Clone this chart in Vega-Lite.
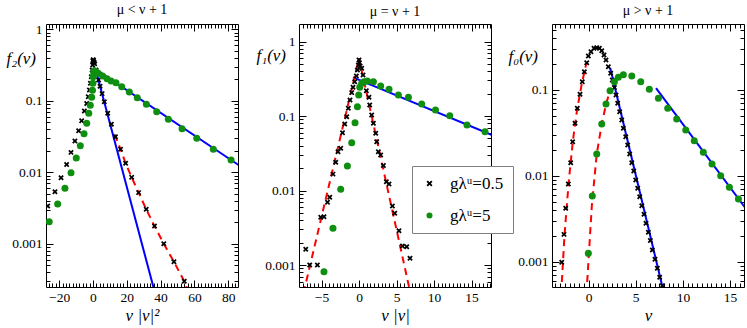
{
  "$schema": "https://vega.github.io/schema/vega-lite/v6.json",
  "padding": {"left": 5, "top": 2, "right": 3, "bottom": 3},
  "bounds": "flush",
  "spacing": 61,
  "resolve": {"scale": {"color": "independent", "shape": "independent"}, "legend": {"color": "independent", "shape": "independent"}},
  "config": {
    "view": {"stroke": "black", "strokeWidth": 1},
    "font": "'Liberation Serif', 'Times New Roman', 'DejaVu Serif', serif",
    "axis": {"domain": false, "grid": false, "tickColor": "black", "tickWidth": 1, "labelFont": "'Liberation Serif', 'Times New Roman', 'DejaVu Serif', serif", "labelFontSize": 13.5, "labelColor": "black", "labelOverlap": false, "labelFlush": false, "titleFont": "'Liberation Serif', 'Times New Roman', 'DejaVu Serif', serif", "titleFontSize": 17, "titleFontStyle": "italic", "titleFontWeight": "normal", "titleColor": "black"},
    "legend": {"labelFont": "'Liberation Serif', 'Times New Roman', 'DejaVu Serif', serif"},
    "title": {"font": "'Liberation Serif', 'Times New Roman', 'DejaVu Serif', serif", "fontSize": 14, "fontWeight": "normal", "color": "black", "offset": 5, "baseline": "alphabetic"}
  },
  "hconcat": [
    {
      "width": 192, "height": 263,
      "title": {"text": "μ < ν + 1"},
      "data": {"values": [
        {"k": "gλᵘ=0.5", "x": -26.8, "y": 0.00338}, {"k": "gλᵘ=0.5", "x": -22.5, "y": 0.00535}, {"k": "gλᵘ=0.5", "x": -18.9, "y": 0.0084}, {"k": "gλᵘ=0.5", "x": -15.6, "y": 0.0129}, {"k": "gλᵘ=0.5", "x": -13.0, "y": 0.019}, {"k": "gλᵘ=0.5", "x": -10.7, "y": 0.0274}, {"k": "gλᵘ=0.5", "x": -8.5, "y": 0.0382}, {"k": "gλᵘ=0.5", "x": -6.7, "y": 0.0527}, {"k": "gλᵘ=0.5", "x": -5.1, "y": 0.072}, {"k": "gλᵘ=0.5", "x": -3.7, "y": 0.092}, {"k": "gλᵘ=0.5", "x": -2.8, "y": 0.114}, {"k": "gλᵘ=0.5", "x": -2.1, "y": 0.142}, {"k": "gλᵘ=0.5", "x": -1.5, "y": 0.176}, {"k": "gλᵘ=0.5", "x": -1.0, "y": 0.217}, {"k": "gλᵘ=0.5", "x": -0.5, "y": 0.27}, {"k": "gλᵘ=0.5", "x": -0.2, "y": 0.317}, {"k": "gλᵘ=0.5", "x": 0, "y": 0.36}, {"k": "gλᵘ=0.5", "x": 0.1, "y": 0.375},
        {"k": "gλᵘ=0.5", "x": 0.3, "y": 0.37}, {"k": "gλᵘ=0.5", "x": 0.6, "y": 0.35}, {"k": "gλᵘ=0.5", "x": 1.0, "y": 0.33}, {"k": "gλᵘ=0.5", "x": 1.8, "y": 0.27}, {"k": "gλᵘ=0.5", "x": 3.3, "y": 0.195}, {"k": "gλᵘ=0.5", "x": 4.2, "y": 0.16}, {"k": "gλᵘ=0.5", "x": 5.4, "y": 0.126}, {"k": "gλᵘ=0.5", "x": 6.7, "y": 0.097}, {"k": "gλᵘ=0.5", "x": 8.7, "y": 0.067}, {"k": "gλᵘ=0.5", "x": 10.9, "y": 0.047}, {"k": "gλᵘ=0.5", "x": 13.3, "y": 0.0315}, {"k": "gλᵘ=0.5", "x": 16.3, "y": 0.021}, {"k": "gλᵘ=0.5", "x": 19.3, "y": 0.0134}, {"k": "gλᵘ=0.5", "x": 22.9, "y": 0.0085}, {"k": "gλᵘ=0.5", "x": 27.0, "y": 0.0052}, {"k": "gλᵘ=0.5", "x": 31.5, "y": 0.00304}, {"k": "gλᵘ=0.5", "x": 36.4, "y": 0.00177}, {"k": "gλᵘ=0.5", "x": 41.9, "y": 0.001}, {"k": "gλᵘ=0.5", "x": 47.9, "y": 0.00056}, {"k": "gλᵘ=0.5", "x": 54.0, "y": 0.0003},
        {"k": "gλᵘ=5", "x": -25.9, "y": 0.00204}, {"k": "gλᵘ=5", "x": -20.9, "y": 0.0036}, {"k": "gλᵘ=5", "x": -16.6, "y": 0.006}, {"k": "gλᵘ=5", "x": -13.0, "y": 0.0099}, {"k": "gλᵘ=5", "x": -9.9, "y": 0.0158}, {"k": "gλᵘ=5", "x": -7.5, "y": 0.0235}, {"k": "gλᵘ=5", "x": -5.3, "y": 0.0347}, {"k": "gλᵘ=5", "x": -3.7, "y": 0.0484}, {"k": "gλᵘ=5", "x": -2.5, "y": 0.067}, {"k": "gλᵘ=5", "x": -1.6, "y": 0.0865}, {"k": "gλᵘ=5", "x": -0.8, "y": 0.112}, {"k": "gλᵘ=5", "x": -0.3, "y": 0.14}, {"k": "gλᵘ=5", "x": -0.05, "y": 0.176}, {"k": "gλᵘ=5", "x": 0.1, "y": 0.217}, {"k": "gλᵘ=5", "x": 0.4, "y": 0.25}, {"k": "gλᵘ=5", "x": 0.8, "y": 0.264}, {"k": "gλᵘ=5", "x": 1.8, "y": 0.255}, {"k": "gλᵘ=5", "x": 3.1, "y": 0.243}, {"k": "gλᵘ=5", "x": 5.7, "y": 0.222}, {"k": "gλᵘ=5", "x": 8.3, "y": 0.204}, {"k": "gλᵘ=5", "x": 10.7, "y": 0.189}, {"k": "gλᵘ=5", "x": 13.6, "y": 0.179}, {"k": "gλᵘ=5", "x": 17.0, "y": 0.157}, {"k": "gλᵘ=5", "x": 21.5, "y": 0.133}, {"k": "gλᵘ=5", "x": 26.2, "y": 0.11}, {"k": "gλᵘ=5", "x": 31.6, "y": 0.0893}, {"k": "gλᵘ=5", "x": 37.7, "y": 0.0705}, {"k": "gλᵘ=5", "x": 44.6, "y": 0.0551}, {"k": "gλᵘ=5", "x": 52.7, "y": 0.0407}, {"k": "gλᵘ=5", "x": 61.4, "y": 0.0299}, {"k": "gλᵘ=5", "x": 71.2, "y": 0.021}, {"k": "gλᵘ=5", "x": 81.7, "y": 0.0149},
        {"k": "b1", "x": 2.0, "y": 0.25}, {"k": "b1", "x": 36.8, "y": 0.0002},
        {"k": "b2", "x": 2.5, "y": 0.266}, {"k": "b2", "x": 90, "y": 0.011},
        {"k": "r1", "x": 12.8, "y": 0.034}, {"k": "r1", "x": 16.3, "y": 0.021}, {"k": "r1", "x": 19.3, "y": 0.0134}, {"k": "r1", "x": 22.9, "y": 0.0085}, {"k": "r1", "x": 27.0, "y": 0.0052}, {"k": "r1", "x": 31.5, "y": 0.00304}, {"k": "r1", "x": 36.4, "y": 0.00177}, {"k": "r1", "x": 41.9, "y": 0.001}, {"k": "r1", "x": 47.9, "y": 0.00056}, {"k": "r1", "x": 54.0, "y": 0.0003}, {"k": "r1", "x": 57.0, "y": 0.0002}
      ]},
      "resolve": {"axis": {"x": "independent", "y": "independent"}},
      "layer": [
        {
          "transform": [{"filter": "datum.k == 'b1' || datum.k == 'b2'"}],
          "mark": {"type": "line", "color": "#0000ff", "strokeWidth": 2, "clip": true},
          "encoding": {
            "x": {"field": "x", "type": "quantitative", "scale": {"domain": [-27.8, 85.8], "nice": false, "zero": false},
              "axis": {"orient": "bottom", "values": [-26,-24,-22,-20,-18,-16,-14,-12,-10,-8,-6,-4,-2,0,2,4,6,8,10,12,14,16,18,20,22,24,26,28,30,32,34,36,38,40,42,44,46,48,50,52,54,56,58,60,62,64,66,68,70,72,74,76,78,80,82,84],
                "labelExpr": "datum.value % 20 == 0 ? format(datum.value, 'd') : ''",
                "tickSize": {"condition": {"test": "datum.value % 20 == 0", "value": -7}, "value": -4},
                "labelPadding": 10, "title": "v |v|²", "titleY": 33, "titleBaseline": "alphabetic"}},
            "y": {"field": "y", "type": "quantitative", "scale": {"type": "log", "domain": [0.000249, 1.186], "nice": false},
              "axis": {"orient": "left", "values": [0.0003,0.0004,0.0005,0.0006,0.0007,0.0008,0.0009,0.001,0.002,0.003,0.004,0.005,0.006,0.007,0.008,0.009,0.01,0.02,0.03,0.04,0.05,0.06,0.07,0.08,0.09,0.1,0.2,0.3,0.4,0.5,0.6,0.7,0.8,0.9,1],
                "labelExpr": "datum.value == 1 ? '1' : datum.value == 0.1 ? '0.1' : datum.value == 0.01 ? '0.01' : datum.value == 0.001 ? '0.001' : ''",
                "tickSize": {"condition": {"test": "datum.value == 1 || datum.value == 0.1 || datum.value == 0.01 || datum.value == 0.001", "value": -7}, "value": -4},
                "labelPadding": 11, "title": "f₂(v)", "titleAngle": 0, "titleAlign": "left", "titleBaseline": "alphabetic", "titleX": -40, "titleY": 39}},
            "detail": {"field": "k"}
          }
        },
        {
          "transform": [{"filter": "datum.k == 'r1'"}],
          "mark": {"type": "line", "color": "#ff0000", "strokeWidth": 2, "strokeDash": [7, 5], "clip": true},
          "encoding": {
            "x": {"field": "x", "type": "quantitative", "scale": {"domain": [-27.8, 85.8], "nice": false, "zero": false},
              "axis": {"orient": "top", "labels": false, "title": null, "values": [-26,-24,-22,-20,-18,-16,-14,-12,-10,-8,-6,-4,-2,0,2,4,6,8,10,12,14,16,18,20,22,24,26,28,30,32,34,36,38,40,42,44,46,48,50,52,54,56,58,60,62,64,66,68,70,72,74,76,78,80,82,84],
                "tickSize": {"condition": {"test": "datum.value % 20 == 0", "value": -7}, "value": -4}}},
            "y": {"field": "y", "type": "quantitative", "scale": {"type": "log", "domain": [0.000249, 1.186], "nice": false},
              "axis": {"orient": "right", "labels": false, "title": null, "values": [0.0003,0.0004,0.0005,0.0006,0.0007,0.0008,0.0009,0.001,0.002,0.003,0.004,0.005,0.006,0.007,0.008,0.009,0.01,0.02,0.03,0.04,0.05,0.06,0.07,0.08,0.09,0.1,0.2,0.3,0.4,0.5,0.6,0.7,0.8,0.9,1],
                "tickSize": {"condition": {"test": "datum.value == 1 || datum.value == 0.1 || datum.value == 0.01 || datum.value == 0.001", "value": -7}, "value": -4}}},
            "detail": {"field": "k"}
          }
        },
        {
          "transform": [{"filter": "datum.k == 'gλᵘ=0.5' || datum.k == 'gλᵘ=5'"}],
          "mark": {"type": "point", "filled": true, "opacity": 1, "strokeWidth": 0, "clip": true},
          "encoding": {
            "x": {"field": "x", "type": "quantitative", "scale": {"domain": [-27.8, 85.8], "nice": false, "zero": false}, "axis": null},
            "y": {"field": "y", "type": "quantitative", "scale": {"type": "log", "domain": [0.000249, 1.186], "nice": false}, "axis": null},
            "color": {"field": "k", "type": "nominal", "scale": {"domain": ["gλᵘ=0.5", "gλᵘ=5"], "range": ["#000000", "#0f8f0f"]}, "legend": null},
            "shape": {"field": "k", "type": "nominal", "scale": {"domain": ["gλᵘ=0.5", "gλᵘ=5"], "range": ["M-1,-0.55L-0.55,-1L0,-0.45L0.55,-1L1,-0.55L0.45,0L1,0.55L0.55,1L0,0.45L-0.55,1L-1,0.55L-0.45,0Z", "circle"]}, "legend": null},
            "size": {"condition": {"test": "datum.k == 'gλᵘ=5'", "value": 49}, "value": 30}
          }
        }
      ]
    },
    {
      "width": 192, "height": 263,
      "title": {"text": "μ = ν + 1"},
      "data": {"values": [
        {"k": "gλᵘ=0.5", "x": -7.1, "y": 0.00163}, {"k": "gλᵘ=0.5", "x": -6.57, "y": 0.001}, {"k": "gλᵘ=0.5", "x": -5.55, "y": 0.001}, {"k": "gλᵘ=0.5", "x": -5.1, "y": 0.00437}, {"k": "gλᵘ=0.5", "x": -4.67, "y": 0.00445}, {"k": "gλᵘ=0.5", "x": -4.2, "y": 0.00694}, {"k": "gλᵘ=0.5", "x": -3.9, "y": 0.0081}, {"k": "gλᵘ=0.5", "x": -3.47, "y": 0.0166}, {"k": "gλᵘ=0.5", "x": -3.1, "y": 0.0239}, {"k": "gλᵘ=0.5", "x": -2.8, "y": 0.0332}, {"k": "gλᵘ=0.5", "x": -2.44, "y": 0.0368}, {"k": "gλᵘ=0.5", "x": -2.2, "y": 0.0597}, {"k": "gλᵘ=0.5", "x": -1.9, "y": 0.078}, {"k": "gλᵘ=0.5", "x": -1.64, "y": 0.098}, {"k": "gλᵘ=0.5", "x": -1.42, "y": 0.127}, {"k": "gλᵘ=0.5", "x": -1.2, "y": 0.164}, {"k": "gλᵘ=0.5", "x": -0.97, "y": 0.206}, {"k": "gλᵘ=0.5", "x": -0.8, "y": 0.243}, {"k": "gλᵘ=0.5", "x": -0.57, "y": 0.289}, {"k": "gλᵘ=0.5", "x": -0.35, "y": 0.344}, {"k": "gλᵘ=0.5", "x": -0.21, "y": 0.414}, {"k": "gλᵘ=0.5", "x": -0.08, "y": 0.484}, {"k": "gλᵘ=0.5", "x": 0, "y": 0.565}, {"k": "gλᵘ=0.5", "x": 0.05, "y": 0.52}, {"k": "gλᵘ=0.5", "x": 0.15, "y": 0.47}, {"k": "gλᵘ=0.5", "x": 0.36, "y": 0.437}, {"k": "gλᵘ=0.5", "x": 0.54, "y": 0.355}, {"k": "gλᵘ=0.5", "x": 0.8, "y": 0.289}, {"k": "gλᵘ=0.5", "x": 0.98, "y": 0.219}, {"k": "gλᵘ=0.5", "x": 1.33, "y": 0.178}, {"k": "gλᵘ=0.5", "x": 1.43, "y": 0.141}, {"k": "gλᵘ=0.5", "x": 1.69, "y": 0.103}, {"k": "gλᵘ=0.5", "x": 1.92, "y": 0.0797}, {"k": "gλᵘ=0.5", "x": 2.23, "y": 0.0586}, {"k": "gλᵘ=0.5", "x": 2.36, "y": 0.0452}, {"k": "gλᵘ=0.5", "x": 2.58, "y": 0.0332}, {"k": "gλᵘ=0.5", "x": 2.89, "y": 0.03}, {"k": "gλᵘ=0.5", "x": 3.25, "y": 0.0216}, {"k": "gλᵘ=0.5", "x": 3.65, "y": 0.0131}, {"k": "gλᵘ=0.5", "x": 4.0, "y": 0.0122}, {"k": "gλᵘ=0.5", "x": 4.45, "y": 0.0062}, {"k": "gλᵘ=0.5", "x": 4.76, "y": 0.00494}, {"k": "gλᵘ=0.5", "x": 5.33, "y": 0.00289}, {"k": "gλᵘ=0.5", "x": 5.79, "y": 0.0018}, {"k": "gλᵘ=0.5", "x": 6.36, "y": 0.00176}, {"k": "gλᵘ=0.5", "x": 6.8, "y": 0.00123},
        {"k": "gλᵘ=5", "x": -4.67, "y": 0.000813}, {"k": "gλᵘ=5", "x": -3.47, "y": 0.00311}, {"k": "gλᵘ=5", "x": -2.44, "y": 0.0104}, {"k": "gλᵘ=5", "x": -1.55, "y": 0.0213}, {"k": "gλᵘ=5", "x": -0.97, "y": 0.0438}, {"k": "gλᵘ=5", "x": -0.53, "y": 0.0813}, {"k": "gλᵘ=5", "x": -0.21, "y": 0.133}, {"k": "gλᵘ=5", "x": -0.04, "y": 0.191}, {"k": "gλᵘ=5", "x": 0.1, "y": 0.243}, {"k": "gλᵘ=5", "x": 0.36, "y": 0.275}, {"k": "gλᵘ=5", "x": 0.67, "y": 0.289}, {"k": "gλᵘ=5", "x": 1.12, "y": 0.295}, {"k": "gλᵘ=5", "x": 1.92, "y": 0.289}, {"k": "gλᵘ=5", "x": 2.89, "y": 0.253}, {"k": "gλᵘ=5", "x": 4.0, "y": 0.228}, {"k": "gλᵘ=5", "x": 5.25, "y": 0.191}, {"k": "gλᵘ=5", "x": 6.59, "y": 0.178}, {"k": "gλᵘ=5", "x": 8.36, "y": 0.145}, {"k": "gλᵘ=5", "x": 10.2, "y": 0.12}, {"k": "gλᵘ=5", "x": 12.1, "y": 0.101}, {"k": "gλᵘ=5", "x": 14.4, "y": 0.0757}, {"k": "gλᵘ=5", "x": 16.8, "y": 0.0616},
        {"k": "b1", "x": -0.8, "y": 0.33}, {"k": "b1", "x": 18.5, "y": 0.0515},
        {"k": "r1", "x": -7.4, "y": 0.00042}, {"k": "r1", "x": 0, "y": 0.594}, {"k": "r1", "x": 6.9, "y": 0.0004}
      ]},
      "resolve": {"axis": {"x": "independent", "y": "independent"}},
      "layer": [
        {
          "transform": [{"filter": "datum.k == 'b1'"}],
          "mark": {"type": "line", "color": "#0000ff", "strokeWidth": 2, "clip": true},
          "encoding": {
            "x": {"field": "x", "type": "quantitative", "scale": {"domain": [-8, 17.6], "nice": false, "zero": false},
              "axis": {"orient": "bottom", "values": [-7.5,-7,-6.5,-6,-5.5,-5,-4.5,-4,-3.5,-3,-2.5,-2,-1.5,-1,-0.5,0,0.5,1,1.5,2,2.5,3,3.5,4,4.5,5,5.5,6,6.5,7,7.5,8,8.5,9,9.5,10,10.5,11,11.5,12,12.5,13,13.5,14,14.5,15,15.5,16,16.5,17,17.5],
                "labelExpr": "datum.value % 5 == 0 ? format(datum.value, 'd') : ''",
                "tickSize": {"condition": {"test": "datum.value % 5 == 0", "value": -7}, "value": -4},
                "labelPadding": 10, "title": "v |v|", "titleY": 33, "titleBaseline": "alphabetic"}},
            "y": {"field": "y", "type": "quantitative", "scale": {"type": "log", "domain": [0.000507, 1.718], "nice": false},
              "axis": {"orient": "left", "values": [0.0006,0.0007,0.0008,0.0009,0.001,0.002,0.003,0.004,0.005,0.006,0.007,0.008,0.009,0.01,0.02,0.03,0.04,0.05,0.06,0.07,0.08,0.09,0.1,0.2,0.3,0.4,0.5,0.6,0.7,0.8,0.9,1],
                "labelExpr": "datum.value == 1 ? '1' : datum.value == 0.1 ? '0.1' : datum.value == 0.01 ? '0.01' : datum.value == 0.001 ? '0.001' : ''",
                "tickSize": {"condition": {"test": "datum.value == 1 || datum.value == 0.1 || datum.value == 0.01 || datum.value == 0.001", "value": -7}, "value": -4},
                "labelPadding": 11, "title": "f₁(v)", "titleAngle": 0, "titleAlign": "left", "titleBaseline": "alphabetic", "titleX": -43, "titleY": 36}},
            "detail": {"field": "k"}
          }
        },
        {
          "transform": [{"filter": "datum.k == 'r1'"}],
          "mark": {"type": "line", "color": "#ff0000", "strokeWidth": 2, "strokeDash": [7, 5], "clip": true},
          "encoding": {
            "x": {"field": "x", "type": "quantitative", "scale": {"domain": [-8, 17.6], "nice": false, "zero": false},
              "axis": {"orient": "top", "labels": false, "title": null, "values": [-7.5,-7,-6.5,-6,-5.5,-5,-4.5,-4,-3.5,-3,-2.5,-2,-1.5,-1,-0.5,0,0.5,1,1.5,2,2.5,3,3.5,4,4.5,5,5.5,6,6.5,7,7.5,8,8.5,9,9.5,10,10.5,11,11.5,12,12.5,13,13.5,14,14.5,15,15.5,16,16.5,17,17.5],
                "tickSize": {"condition": {"test": "datum.value % 5 == 0", "value": -7}, "value": -4}}},
            "y": {"field": "y", "type": "quantitative", "scale": {"type": "log", "domain": [0.000507, 1.718], "nice": false},
              "axis": {"orient": "right", "labels": false, "title": null, "values": [0.0006,0.0007,0.0008,0.0009,0.001,0.002,0.003,0.004,0.005,0.006,0.007,0.008,0.009,0.01,0.02,0.03,0.04,0.05,0.06,0.07,0.08,0.09,0.1,0.2,0.3,0.4,0.5,0.6,0.7,0.8,0.9,1],
                "tickSize": {"condition": {"test": "datum.value == 1 || datum.value == 0.1 || datum.value == 0.01 || datum.value == 0.001", "value": -7}, "value": -4}}},
            "detail": {"field": "k"}
          }
        },
        {
          "transform": [{"filter": "datum.k == 'gλᵘ=0.5' || datum.k == 'gλᵘ=5'"}],
          "mark": {"type": "point", "filled": true, "opacity": 1, "strokeWidth": 0, "clip": true},
          "encoding": {
            "x": {"field": "x", "type": "quantitative", "scale": {"domain": [-8, 17.6], "nice": false, "zero": false}, "axis": null},
            "y": {"field": "y", "type": "quantitative", "scale": {"type": "log", "domain": [0.000507, 1.718], "nice": false}, "axis": null},
            "color": {"field": "k", "type": "nominal", "scale": {"domain": ["gλᵘ=0.5", "gλᵘ=5"], "range": ["#000000", "#0f8f0f"]},
              "legend": {"orient": "none", "legendX": 113, "legendY": 142, "title": null, "padding": 9, "strokeColor": "#808080", "fillColor": "white", "labelFontSize": 17, "labelFont": "'Liberation Serif', 'Times New Roman', 'DejaVu Serif', serif", "labelColor": "black", "labelOffset": 12, "rowPadding": 14, "symbolSize": 36, "symbolStrokeWidth": 0}},
            "shape": {"field": "k", "type": "nominal", "scale": {"domain": ["gλᵘ=0.5", "gλᵘ=5"], "range": ["M-1,-0.55L-0.55,-1L0,-0.45L0.55,-1L1,-0.55L0.45,0L1,0.55L0.55,1L0,0.45L-0.55,1L-1,0.55L-0.45,0Z", "circle"]},
              "legend": {"orient": "none", "legendX": 113, "legendY": 142, "title": null, "padding": 9, "strokeColor": "#808080", "fillColor": "white", "labelFontSize": 17, "labelFont": "'Liberation Serif', 'Times New Roman', 'DejaVu Serif', serif", "labelColor": "black", "labelOffset": 12, "rowPadding": 14, "symbolSize": 36, "symbolStrokeWidth": 0}},
            "size": {"condition": {"test": "datum.k == 'gλᵘ=5'", "value": 49}, "value": 30}
          }
        }
      ]
    },
    {
      "width": 192, "height": 263,
      "title": {"text": "μ > ν + 1"},
      "data": {"values": [
        {"k": "gλᵘ=0.5", "x": -2.84, "y": 0.000984}, {"k": "gλᵘ=0.5", "x": -2.6, "y": 0.00208}, {"k": "gλᵘ=0.5", "x": -2.42, "y": 0.00419}, {"k": "gλᵘ=0.5", "x": -2.14, "y": 0.00804}, {"k": "gλᵘ=0.5", "x": -1.89, "y": 0.0142}, {"k": "gλᵘ=0.5", "x": -1.68, "y": 0.025}, {"k": "gλᵘ=0.5", "x": -1.43, "y": 0.0409}, {"k": "gλᵘ=0.5", "x": -1.19, "y": 0.0612}, {"k": "gλᵘ=0.5", "x": -0.9, "y": 0.0891}, {"k": "gλᵘ=0.5", "x": -0.66, "y": 0.125}, {"k": "gλᵘ=0.5", "x": -0.44, "y": 0.163}, {"k": "gλᵘ=0.5", "x": -0.19, "y": 0.208}, {"k": "gλᵘ=0.5", "x": -0.02, "y": 0.249}, {"k": "gλᵘ=0.5", "x": 0.26, "y": 0.279}, {"k": "gλᵘ=0.5", "x": 0.58, "y": 0.306}, {"k": "gλᵘ=0.5", "x": 0.87, "y": 0.311}, {"k": "gλᵘ=0.5", "x": 1.15, "y": 0.306}, {"k": "gλᵘ=0.5", "x": 1.4, "y": 0.287}, {"k": "gλᵘ=0.5", "x": 1.64, "y": 0.256}, {"k": "gλᵘ=0.5", "x": 1.85, "y": 0.224}, {"k": "gλᵘ=0.5", "x": 2.1, "y": 0.187}, {"k": "gλᵘ=0.5", "x": 2.35, "y": 0.157}, {"k": "gλᵘ=0.5", "x": 2.52, "y": 0.131}, {"k": "gλᵘ=0.5", "x": 2.74, "y": 0.107}, {"k": "gλᵘ=0.5", "x": 2.91, "y": 0.0874}, {"k": "gλᵘ=0.5", "x": 3.09, "y": 0.07}, {"k": "gλᵘ=0.5", "x": 3.3, "y": 0.0559}, {"k": "gλᵘ=0.5", "x": 3.52, "y": 0.0447}, {"k": "gλᵘ=0.5", "x": 3.69, "y": 0.0358}, {"k": "gλᵘ=0.5", "x": 3.94, "y": 0.0286}, {"k": "gλᵘ=0.5", "x": 4.15, "y": 0.0229}, {"k": "gλᵘ=0.5", "x": 4.36, "y": 0.018}, {"k": "gλᵘ=0.5", "x": 4.58, "y": 0.0142}, {"k": "gλᵘ=0.5", "x": 4.79, "y": 0.0114}, {"k": "gλᵘ=0.5", "x": 5.0, "y": 0.00895}, {"k": "gλᵘ=0.5", "x": 5.21, "y": 0.00716}, {"k": "gλᵘ=0.5", "x": 5.42, "y": 0.00572}, {"k": "gλᵘ=0.5", "x": 5.64, "y": 0.00449}, {"k": "gλᵘ=0.5", "x": 5.88, "y": 0.00356}, {"k": "gλᵘ=0.5", "x": 6.09, "y": 0.0028}, {"k": "gλᵘ=0.5", "x": 6.34, "y": 0.0022}, {"k": "gλᵘ=0.5", "x": 6.55, "y": 0.00176}, {"k": "gλᵘ=0.5", "x": 6.76, "y": 0.00137}, {"k": "gλᵘ=0.5", "x": 7.04, "y": 0.00107}, {"k": "gλᵘ=0.5", "x": 7.29, "y": 0.000837}, {"k": "gλᵘ=0.5", "x": 7.54, "y": 0.000658}, {"k": "gλᵘ=0.5", "x": 7.82, "y": 0.000525},
        {"k": "gλᵘ=5", "x": -0.02, "y": 0.00125}, {"k": "gλᵘ=5", "x": 0.4, "y": 0.00582}, {"k": "gλᵘ=5", "x": 0.87, "y": 0.018}, {"k": "gλᵘ=5", "x": 1.4, "y": 0.0402}, {"k": "gλᵘ=5", "x": 1.85, "y": 0.0687}, {"k": "gλᵘ=5", "x": 2.28, "y": 0.0982}, {"k": "gλᵘ=5", "x": 2.74, "y": 0.125}, {"k": "gλᵘ=5", "x": 3.16, "y": 0.141}, {"k": "gλᵘ=5", "x": 3.69, "y": 0.15}, {"k": "gλᵘ=5", "x": 4.58, "y": 0.146}, {"k": "gλᵘ=5", "x": 5.53, "y": 0.125}, {"k": "gλᵘ=5", "x": 6.44, "y": 0.102}, {"k": "gλᵘ=5", "x": 7.4, "y": 0.08}, {"k": "gλᵘ=5", "x": 8.39, "y": 0.0612}, {"k": "gλᵘ=5", "x": 9.34, "y": 0.0459}, {"k": "gλᵘ=5", "x": 10.3, "y": 0.0342}, {"k": "gλᵘ=5", "x": 11.2, "y": 0.0257}, {"k": "gλᵘ=5", "x": 12.16, "y": 0.0188}, {"k": "gλᵘ=5", "x": 13.08, "y": 0.0137}, {"k": "gλᵘ=5", "x": 14.0, "y": 0.01}, {"k": "gλᵘ=5", "x": 14.92, "y": 0.00736}, {"k": "gλᵘ=5", "x": 15.88, "y": 0.00537},
        {"k": "b1", "x": 2.3, "y": 0.18}, {"k": "b1", "x": 8.2, "y": 0.000343},
        {"k": "b2", "x": 7.15, "y": 0.105}, {"k": "b2", "x": 17, "y": 0.0037},
        {"k": "r1", "x": -2.9, "y": 0.00042}, {"k": "r1", "x": -2.55, "y": 0.002}, {"k": "r1", "x": -2.1, "y": 0.0085}, {"k": "r1", "x": -1.65, "y": 0.026}, {"k": "r1", "x": -1.2, "y": 0.06}, {"k": "r1", "x": -0.7, "y": 0.12}, {"k": "r1", "x": -0.25, "y": 0.2},
        {"k": "r2", "x": -0.22, "y": 0.00042}, {"k": "r2", "x": 0.35, "y": 0.0045}, {"k": "r2", "x": 0.87, "y": 0.018}, {"k": "r2", "x": 1.4, "y": 0.04}, {"k": "r2", "x": 1.85, "y": 0.068}, {"k": "r2", "x": 2.3, "y": 0.1}
      ]},
      "resolve": {"axis": {"x": "independent", "y": "independent"}},
      "layer": [
        {
          "transform": [{"filter": "datum.k == 'b1' || datum.k == 'b2'"}],
          "mark": {"type": "line", "color": "#0000ff", "strokeWidth": 2, "clip": true},
          "encoding": {
            "x": {"field": "x", "type": "quantitative", "scale": {"domain": [-3.87, 16.47], "nice": false, "zero": false},
              "axis": {"orient": "bottom", "values": [-3.5,-3,-2.5,-2,-1.5,-1,-0.5,0,0.5,1,1.5,2,2.5,3,3.5,4,4.5,5,5.5,6,6.5,7,7.5,8,8.5,9,9.5,10,10.5,11,11.5,12,12.5,13,13.5,14,14.5,15,15.5,16],
                "labelExpr": "datum.value % 5 == 0 ? format(datum.value, 'd') : ''",
                "tickSize": {"condition": {"test": "datum.value % 5 == 0", "value": -7}, "value": -4},
                "labelPadding": 10, "title": "v", "titleY": 33, "titleBaseline": "alphabetic"}},
            "y": {"field": "y", "type": "quantitative", "scale": {"type": "log", "domain": [0.000507, 0.587], "nice": false},
              "axis": {"orient": "left", "values": [0.0006,0.0007,0.0008,0.0009,0.001,0.002,0.003,0.004,0.005,0.006,0.007,0.008,0.009,0.01,0.02,0.03,0.04,0.05,0.06,0.07,0.08,0.09,0.1,0.2,0.3,0.4,0.5],
                "labelExpr": "datum.value == 1 ? '1' : datum.value == 0.1 ? '0.1' : datum.value == 0.01 ? '0.01' : datum.value == 0.001 ? '0.001' : ''",
                "tickSize": {"condition": {"test": "datum.value == 1 || datum.value == 0.1 || datum.value == 0.01 || datum.value == 0.001", "value": -7}, "value": -4},
                "labelPadding": 11, "title": "f₀(v)", "titleAngle": 0, "titleAlign": "left", "titleBaseline": "alphabetic", "titleX": -44, "titleY": 37}},
            "detail": {"field": "k"}
          }
        },
        {
          "transform": [{"filter": "datum.k == 'r1' || datum.k == 'r2'"}],
          "mark": {"type": "line", "color": "#ff0000", "strokeWidth": 2, "strokeDash": [7, 5], "clip": true},
          "encoding": {
            "x": {"field": "x", "type": "quantitative", "scale": {"domain": [-3.87, 16.47], "nice": false, "zero": false},
              "axis": {"orient": "top", "labels": false, "title": null, "values": [-3.5,-3,-2.5,-2,-1.5,-1,-0.5,0,0.5,1,1.5,2,2.5,3,3.5,4,4.5,5,5.5,6,6.5,7,7.5,8,8.5,9,9.5,10,10.5,11,11.5,12,12.5,13,13.5,14,14.5,15,15.5,16],
                "tickSize": {"condition": {"test": "datum.value % 5 == 0", "value": -7}, "value": -4}}},
            "y": {"field": "y", "type": "quantitative", "scale": {"type": "log", "domain": [0.000507, 0.587], "nice": false},
              "axis": {"orient": "right", "labels": false, "title": null, "values": [0.0006,0.0007,0.0008,0.0009,0.001,0.002,0.003,0.004,0.005,0.006,0.007,0.008,0.009,0.01,0.02,0.03,0.04,0.05,0.06,0.07,0.08,0.09,0.1,0.2,0.3,0.4,0.5],
                "tickSize": {"condition": {"test": "datum.value == 1 || datum.value == 0.1 || datum.value == 0.01 || datum.value == 0.001", "value": -7}, "value": -4}}},
            "detail": {"field": "k"}
          }
        },
        {
          "transform": [{"filter": "datum.k == 'gλᵘ=0.5' || datum.k == 'gλᵘ=5'"}],
          "mark": {"type": "point", "filled": true, "opacity": 1, "strokeWidth": 0, "clip": true},
          "encoding": {
            "x": {"field": "x", "type": "quantitative", "scale": {"domain": [-3.87, 16.47], "nice": false, "zero": false}, "axis": null},
            "y": {"field": "y", "type": "quantitative", "scale": {"type": "log", "domain": [0.000507, 0.587], "nice": false}, "axis": null},
            "color": {"field": "k", "type": "nominal", "scale": {"domain": ["gλᵘ=0.5", "gλᵘ=5"], "range": ["#000000", "#0f8f0f"]}, "legend": null},
            "shape": {"field": "k", "type": "nominal", "scale": {"domain": ["gλᵘ=0.5", "gλᵘ=5"], "range": ["M-1,-0.55L-0.55,-1L0,-0.45L0.55,-1L1,-0.55L0.45,0L1,0.55L0.55,1L0,0.45L-0.55,1L-1,0.55L-0.45,0Z", "circle"]}, "legend": null},
            "size": {"condition": {"test": "datum.k == 'gλᵘ=5'", "value": 49}, "value": 30}
          }
        }
      ]
    }
  ]
}
